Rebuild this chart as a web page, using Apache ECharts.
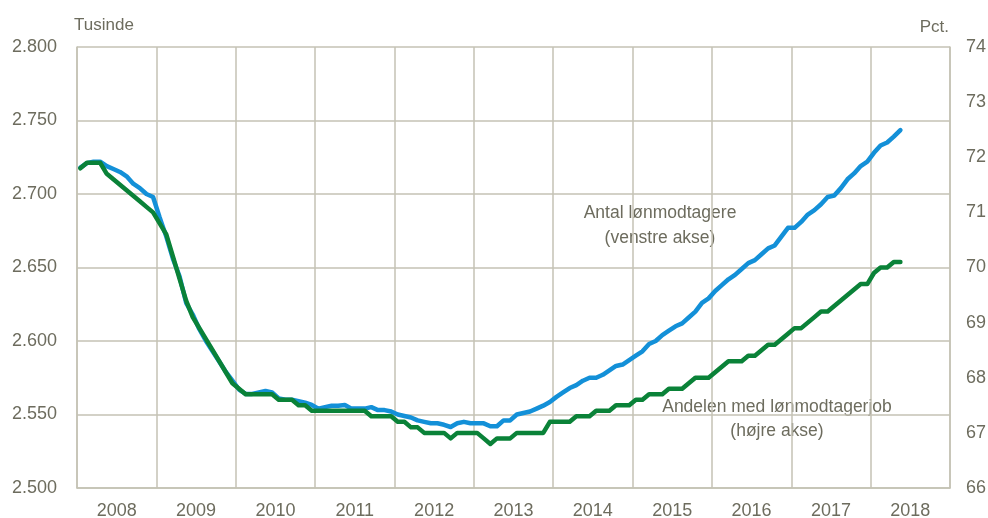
<!DOCTYPE html>
<html>
<head>
<meta charset="utf-8">
<script src="https://cdn.jsdelivr.net/npm/echarts@6/dist/echarts.min.js"></script>
<style>html,body{margin:0;padding:0;background:#fff;overflow:hidden}#c{width:988px;height:518px}</style>
</head>
<body>
<div id="c"></div>
<script>
// Year labels (one per year band)
const years = ['2008','2009','2010','2011','2012','2013','2014','2015','2016','2017','2018'];
// Monthly data from Jan 2008 to May 2018
// Antal lønmodtagere, tusinde (venstre akse)
const antal = [
 2718,2721,2722,2722,2719,2717,2715,2712,2707,2704,2700,2698,
 2684,2671,2656,2644,2626,2618,2608,2600,2593,2586,2579,2573,
 2567,2564,2564,2565,2566,2565,2561,2560,2560,2559,2558,2556.5,
 2554,2555,2556,2556,2556.5,2554,2554,2554,2555,2553,2553,2552,
 2550,2549,2548,2546,2545,2544,2544,2543,2541.5,2544,2545,2544,
 2544,2544,2542,2542,2546,2546,2550,2551,2552,2554,2556,2558.5,
 2562,2565,2568,2570,2573,2575,2575,2577,2580,2583,2584,2587,
 2590,2593,2598,2600,2604,2607,2610,2612,2616,2620,2626,2629,
 2634,2638,2642,2645,2649,2653,2655,2659,2663,2665,2671,2677,
 2677,2681,2686,2689,2693,2698,2699,2704,2710,2714,2719,2722,
 2728,2733,2735,2739,2743.5
];
// Andelen med lønmodtagerjob, pct. (højre akse)
const andel = [
 71.8,71.9,71.9,71.9,71.7,71.6,71.5,71.4,71.3,71.2,71.1,71.0,
 70.8,70.6,70.2,69.8,69.4,69.1,68.9,68.7,68.5,68.3,68.1,67.9,
 67.8,67.7,67.7,67.7,67.7,67.7,67.6,67.6,67.6,67.5,67.5,67.4,
 67.4,67.4,67.4,67.4,67.4,67.4,67.4,67.4,67.3,67.3,67.3,67.3,
 67.2,67.2,67.1,67.1,67.0,67.0,67.0,67.0,66.9,67.0,67.0,67.0,
 67.0,66.9,66.8,66.9,66.9,66.9,67.0,67.0,67.0,67.0,67.0,67.2,
 67.2,67.2,67.2,67.3,67.3,67.3,67.4,67.4,67.4,67.5,67.5,67.5,
 67.6,67.6,67.7,67.7,67.7,67.8,67.8,67.8,67.9,68.0,68.0,68.0,
 68.1,68.2,68.3,68.3,68.3,68.4,68.4,68.5,68.6,68.6,68.7,68.8,
 68.9,68.9,69.0,69.1,69.2,69.2,69.3,69.4,69.5,69.6,69.7,69.7,
 69.9,70.0,70.0,70.1,70.1
];
const leftTicks = {min: 2500, max: 2800, interval: 50};
const rightTicks = {min: 66, max: 74, interval: 1};

const FONT = "'Liberation Sans',Arial,sans-serif";
const TXT = '#6d6c5e';
const GRID = '#c4c2b4';

const toPts = arr => arr.map((v, i) => [i + 0.5, v]);

const chart = echarts.init(document.getElementById('c'));
chart.setOption({
  animation: false,
  backgroundColor: '#fff',
  grid: {left: 77, right: 38, top: 47, bottom: 30, containLabel: false, outerBoundsMode: 'none'},
  xAxis: [
    {type: 'value', min: 0, max: years.length * 12, interval: 12,
     axisLine: {show: true, lineStyle: {color: GRID, width: 1.5}},
     axisTick: {show: false}, axisLabel: {show: false},
     splitLine: {show: true, lineStyle: {color: GRID, width: 1.5}}},
    {type: 'category', data: years, boundaryGap: true, position: 'bottom',
     axisLine: {show: false}, axisTick: {show: false}, splitLine: {show: false},
     axisLabel: {color: TXT, fontFamily: FONT, fontSize: 18, margin: 14}}
  ],
  yAxis: [
    {type: 'value', min: leftTicks.min, max: leftTicks.max, interval: leftTicks.interval,
     axisLine: {show: true, lineStyle: {color: GRID, width: 1.5}}, axisTick: {show: false},
     splitLine: {show: true, lineStyle: {color: GRID, width: 1.5}},
     axisLabel: {color: TXT, fontFamily: FONT, fontSize: 18, margin: 20,
                 formatter: v => (v / 1000).toFixed(3)}},
    {type: 'value', min: rightTicks.min, max: rightTicks.max, interval: rightTicks.interval,
     position: 'right',
     axisLine: {show: true, lineStyle: {color: GRID, width: 1.5}}, axisTick: {show: false},
     splitLine: {show: false},
     axisLabel: {color: TXT, fontFamily: FONT, fontSize: 18, margin: 16}}
  ],
  series: [
    {name: 'Antal lønmodtagere', type: 'line', xAxisIndex: 0, yAxisIndex: 0,
     data: toPts(antal), showSymbol: false, smooth: false,
     lineStyle: {color: '#1390d8', width: 4.5, join: 'round', cap: 'round'}},
    {name: 'Andelen med lønmodtagerjob', type: 'line', xAxisIndex: 0, yAxisIndex: 1,
     data: toPts(andel), showSymbol: false, smooth: false,
     lineStyle: {color: '#0a8238', width: 4.5, join: 'round', cap: 'round'}}
  ],
  graphic: [
    {type: 'text', style: {text: 'Tusinde', x: 74, y: 25, textAlign: 'left', textVerticalAlign: 'middle', fill: TXT, font: '17px ' + FONT}},
    {type: 'text', style: {text: 'Pct.', x: 949, y: 27, textAlign: 'right', textVerticalAlign: 'middle', fill: TXT, font: '17px ' + FONT}},
    {type: 'text', style: {text: 'Antal lønmodtagere', x: 660, y: 213, textAlign: 'center', textVerticalAlign: 'middle', fill: TXT, font: '17.5px ' + FONT}},
    {type: 'text', style: {text: '(venstre akse)', x: 660, y: 238, textAlign: 'center', textVerticalAlign: 'middle', fill: TXT, font: '17.5px ' + FONT}},
    {type: 'text', style: {text: 'Andelen med lønmodtagerjob', x: 777, y: 407, textAlign: 'center', textVerticalAlign: 'middle', fill: TXT, font: '17.5px ' + FONT}},
    {type: 'text', style: {text: '(højre akse)', x: 777, y: 431, textAlign: 'center', textVerticalAlign: 'middle', fill: TXT, font: '17.5px ' + FONT}}
  ]
});
</script>
</body>
</html>
